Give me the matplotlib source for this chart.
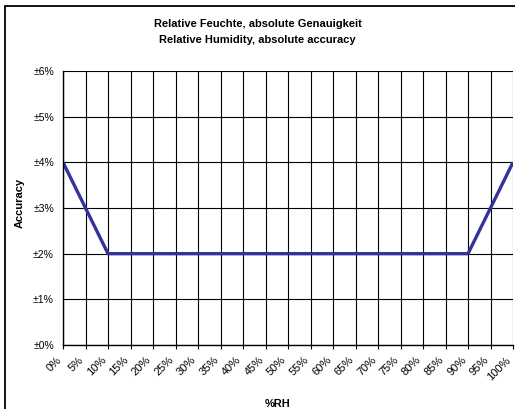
import matplotlib
matplotlib.use("Agg")
import matplotlib.pyplot as plt
from matplotlib.patches import Rectangle
from matplotlib.transforms import ScaledTranslation

# data
rh_pct = [0, 10, 90, 100]
accuracy_pct = [4, 2, 2, 4]
x_ticks = list(range(0, 101, 5))
x_labels = [f"{v}%" for v in x_ticks]
y_ticks = list(range(0, 7))
y_labels = [f"±{v}%" for v in y_ticks]

plt.rcParams["font.family"] = ["Liberation Sans", "DejaVu Sans"]

W, H = 515, 409
fig = plt.figure(figsize=(W / 100, H / 100), dpi=100)

# outer chart frame (cropped at right and bottom in the reference)
fig.patches.append(Rectangle((5 / W, -0.1), 1.2, 1 - 6 / H + 0.1,
                             transform=fig.transFigure, fill=False,
                             edgecolor="black", linewidth=1.3))

ax = fig.add_axes([63 / W, 1 - 345 / H, (513 - 63) / W, (345 - 71) / H])
ax.plot(rh_pct, accuracy_pct, color="#333399", linewidth=2.4, solid_capstyle="butt")

ax.set_xlim(0, 100)
ax.set_ylim(0, 6)
ax.set_xticks(x_ticks)
ax.set_xticklabels([])
# rotated x labels drawn by hand, sitting left of / below their ticks
lbl_tr = ax.get_xaxis_transform() + ScaledTranslation(-7 / 100, -10 / 100, fig.dpi_scale_trans)
for xv, txt in zip(x_ticks, x_labels):
    ax.text(xv, 0, txt, transform=lbl_tr, rotation=45, ha="right", va="top",
            rotation_mode="anchor", fontsize=8, clip_on=False)
ax.set_yticks(y_ticks)
ax.set_yticklabels(y_labels, fontsize=7.5)
ax.grid(True, color="black", linewidth=0.8)
ax.set_axisbelow(True)
ax.tick_params(axis="x", length=3, width=0.8)
ax.tick_params(axis="y", length=0, pad=6.5)
for side in ["left", "bottom"]:
    ax.spines[side].set_linewidth(1.0)
for side in ["top", "right"]:
    ax.spines[side].set_visible(False)

fig.text(0.5, 1 - 24 / H, "Relative Feuchte, absolute Genauigkeit",
         ha="center", va="center", fontsize=8, fontweight="bold")
fig.text(0.5, 1 - 40 / H, "Relative Humidity, absolute accuracy",
         ha="center", va="center", fontsize=8, fontweight="bold")
fig.text(20 / W, 1 - 203 / H, "Accuracy", rotation=90, ha="center",
         va="center", fontsize=8, fontweight="bold")
fig.text(278 / W, 1 - 404 / H, "%RH", ha="center", va="center",
         fontsize=8, fontweight="bold")

fig.savefig("out.png", dpi=100)
